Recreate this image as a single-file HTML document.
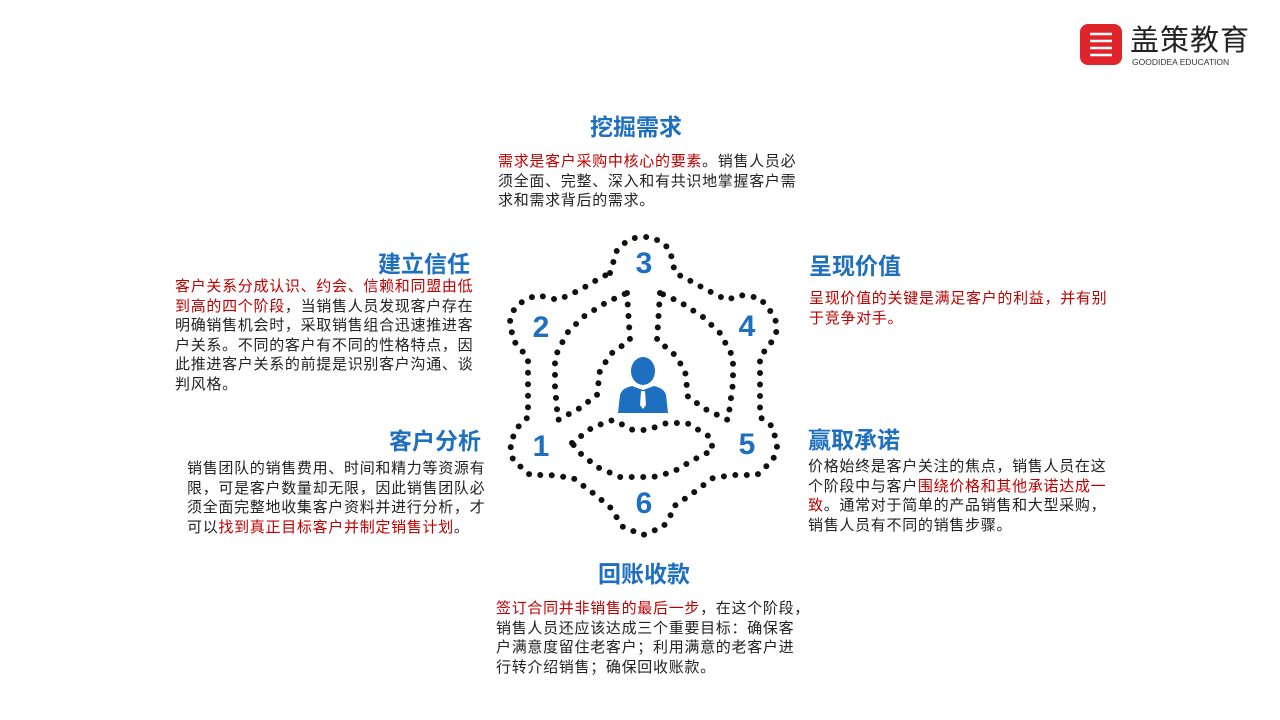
<!DOCTYPE html>
<html><head><meta charset="utf-8"><style>
body{margin:0;width:1280px;height:720px;background:#fff;position:relative;overflow:hidden;font-family:"Liberation Sans","Noto Sans CJK SC",sans-serif}
.t{position:absolute;color:#1f6fc0;font-weight:bold;font-size:23px;line-height:28px;white-space:nowrap}
.b{position:absolute;font-size:15px;line-height:19.5px;color:#222;white-space:nowrap;letter-spacing:0.7px}
.r{color:#c00000}
.n{position:absolute;color:#1f6fc0;font-weight:bold;font-size:30px;line-height:30px;width:30px;text-align:center}
</style></head><body>
<svg width="1280" height="720" style="position:absolute;left:0;top:0">
<g fill="none" stroke="#111" stroke-width="6" stroke-linecap="round" stroke-linejoin="round" stroke-dasharray="0 11.5">
<path d="M610,273 L617,250 L628,240 L638,237 L650,237 L662,242 L670,250 L675,273 L685,278 L707,290 L727,300 L740,295 L760,298 L775,317 L777,330 L773,340 L760,357 L760,417 L773,427 L777,447 L773,460 L757,475 L733,475 L713,478 L693,493 L673,507 L670,517 L663,527 L643,535 L623,527 L610,507 L593,493 L573,478 L550,475 L530,475 L513,460 L510,443 L518,427 L528,417 L528,358 L513,340 L510,320 L515,307 L525,300 L537,295 L558,300 L580,290 L600,278 Z"/>
<path d="M627,293 L630,340 L612,353 L600,370 L597,395 L580,408 L558,420 L555,387 L555,357 L567,333 L583,317 L607,302 Z"/>
<path d="M660,293 L657,340 L673,353 L685,370 L688,397 L707,410 L728,420 L733,383 L733,357 L720,333 L703,317 L680,302 Z"/>
<path d="M572,443 L593,427 L613,420 L633,430 L647,430 L667,423 L687,423 L710,437 L713,450 L693,460 L673,472 L653,477 L620,477 L597,467 L580,453 Z"/>
</g>
<g fill="#1f6fc0">
<ellipse cx="643" cy="371" rx="12" ry="14"/>
<path d="M618,413 L620,395 Q622,388 632,386 L643,390 L654,386 Q664,388 666,395 L668,413 Z"/>
</g>
<path d="M641,391 L645,391 L646,405 L643,409 L640,405 Z" fill="#fff"/>
<rect x="1080" y="24" width="42" height="41" rx="8" fill="#e0242b"/>
<g stroke="#fff" stroke-width="2.5"><line x1="1090" y1="34" x2="1112" y2="34"/><line x1="1090" y1="41" x2="1112" y2="41"/><line x1="1090" y1="48" x2="1112" y2="48"/><line x1="1090" y1="55" x2="1112" y2="55"/></g>
</svg>
<div style="position:absolute;left:1130px;top:25px;font-size:29px;line-height:32px;color:#222;letter-spacing:1px">盖策教育</div>
<div style="position:absolute;left:1132px;top:57px;font-size:8.5px;color:#333">GOODIDEA EDUCATION</div>

<div class="n" style="left:629px;top:249px">3</div>
<div class="n" style="left:526px;top:313px">2</div>
<div class="n" style="left:732px;top:312px">4</div>
<div class="n" style="left:526px;top:432px">1</div>
<div class="n" style="left:732px;top:430px">5</div>
<div class="n" style="left:629px;top:489px">6</div>

<div class="t" style="left:590px;top:113px">挖掘需求</div>
<div class="b" style="left:498px;top:152px"><span class="r">需求是客户采购中核心的要素</span>。销售人员必<br>须全面、完整、深入和有共识地掌握客户需<br>求和需求背后的需求。</div>

<div class="t" style="left:378px;top:250px">建立信任</div>
<div class="b" style="left:175px;top:277px"><span class="r">客户关系分成认识、约会、信赖和同盟由低<br>到高的四个阶段</span>，当销售人员发现客户存在<br>明确销售机会时，采取销售组合迅速推进客<br>户关系。不同的客户有不同的性格特点，因<br>此推进客户关系的前提是识别客户沟通、谈<br>判风格。</div>

<div class="t" style="left:809px;top:252px">呈现价值</div>
<div class="b" style="left:809px;top:289px"><span class="r">呈现价值的关键是满足客户的利益，并有别<br>于竞争对手。</span></div>

<div class="t" style="left:389px;top:427px">客户分析</div>
<div class="b" style="left:187px;top:459px">销售团队的销售费用、时间和精力等资源有<br>限，可是客户数量却无限，因此销售团队必<br>须全面完整地收集客户资料并进行分析，才<br>可以<span class="r">找到真正目标客户并制定销售计划</span>。</div>

<div class="t" style="left:808px;top:426px">赢取承诺</div>
<div class="b" style="left:808px;top:457px">价格始终是客户关注的焦点，销售人员在这<br>个阶段中与客户<span class="r">围绕价格和其他承诺达成一<br>致</span>。通常对于简单的产品销售和大型采购，<br>销售人员有不同的销售步骤。</div>

<div class="t" style="left:598px;top:560px">回账收款</div>
<div class="b" style="left:496px;top:599px"><span class="r">签订合同并非销售的最后一步</span>，在这个阶段，<br>销售人员还应该达成三个重要目标：确保客<br>户满意度留住老客户；利用满意的老客户进<br>行转介绍销售；确保回收账款。</div>
</body></html>
